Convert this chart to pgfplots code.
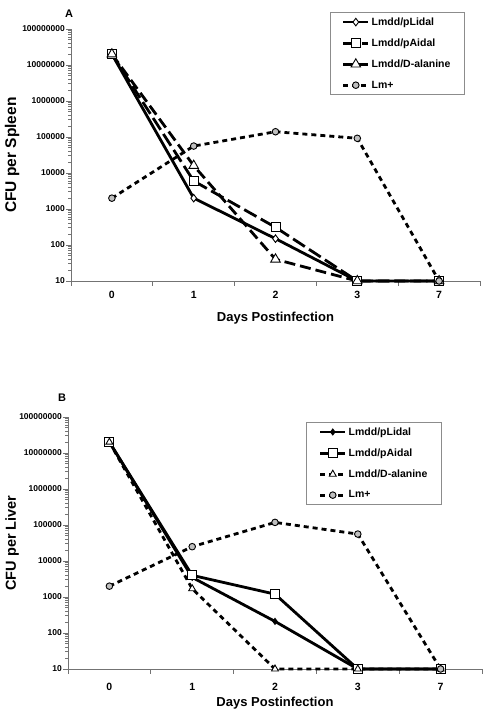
\documentclass[border=0pt]{standalone}
\usepackage{fontspec}
\setmainfont{Liberation Sans}
\usepackage{pgfplots}
\pgfplotsset{compat=1.18}
\begin{document}
\begin{tikzpicture}
\path[use as bounding box] (0pt,0pt) rectangle (487pt,715pt);
% ---------------- Panel A ----------------
\begin{axis}[scale only axis, width=409pt, height=252pt, at={(71pt,434pt)}, anchor=south west,
  ymode=log, ymin=10, ymax=100000000, xmin=-0.5, xmax=4.5,
  axis x line*=bottom, axis y line*=left,
  axis line style={draw=black!55, line width=0.8pt},
  ytick={10,100,1000,10000,100000,1000000,10000000,100000000},
  yticklabels={10,100,1000,10000,100000,1000000,10000000,100000000},
  tick align=outside, major tick length=5pt,
  tick style={draw=black!55, line width=0.8pt},
  xtick={-0.5,0.5,1.5,2.5,3.5,4.5}, xticklabels={},
  extra x ticks={0,1,2,3,4}, extra x tick labels={0,1,2,3,7},
  extra x tick style={major tick length=0pt},
  yticklabel style={font=\bfseries\fontsize{8.5}{9}\selectfont, inner sep=1pt},
  xticklabel style={font=\bfseries\fontsize{10.5}{12}\selectfont, anchor=center, yshift=-14pt},
  xlabel={Days Postinfection},
  xlabel style={font=\bfseries\fontsize{13}{14}\selectfont, anchor=center, at={(axis description cs:0.5,-0.147)}},
  ylabel={CFU per Spleen},
  ylabel style={font=\bfseries\fontsize{15.5}{16}\selectfont, at={(axis description cs:-0.144,0.5)}, anchor=center},
  clip=false,
  legend cell align=left,
  legend style={draw=black!45, line width=0.8pt, fill=white, anchor=north east, at={(0.963,1.067)},
    font=\bfseries\fontsize{10.5}{12}\selectfont,
    inner xsep=12pt, inner ysep=3pt, row sep=8pt, column sep=0pt},
  legend image code/.code={\draw[mark repeat=2,mark phase=2,#1] plot coordinates {(0pt,0pt) (12.5pt,0pt) (25pt,0pt)};},
  ]
\addplot[black, line width=2.8pt, mark=diamond*, mark size=3.8pt, mark options={solid, fill=white, line width=0.9pt}]
 coordinates {(0,20000000) (1,2000) (2,150) (3,10) (4,10)};
\addlegendentry{Lmdd/pLidal}
\addplot[black, line width=2.8pt, dash pattern=on 14pt off 5pt, mark=square*, mark size=4.5pt, mark options={solid, fill=white, line width=0.9pt}]
 coordinates {(0,20000000) (1,6000) (2,310) (3,10) (4,10)};
\addlegendentry{Lmdd/pAidal}
\addplot[black, line width=2.8pt, dash pattern=on 11pt off 5pt, mark=triangle*, mark size=5.5pt, mark options={solid, fill=white, line width=0.9pt}]
 coordinates {(0,20000000) (1,16000) (2,40) (3,10) (4,10)};
\addlegendentry{Lmdd/D-alanine}
\addplot[black, line width=2.8pt, dash pattern=on 5pt off 4pt, mark=*, mark size=3.3pt, mark options={solid, fill=black!25, line width=0.9pt}]
 coordinates {(0,2000) (1,56000) (2,140000) (3,92000) (4,10)};
\addlegendentry{Lm+}
\end{axis}
% ---------------- Panel B ----------------
\begin{axis}[scale only axis, width=414pt, height=252pt, at={(68pt,46pt)}, anchor=south west,
  ymode=log, ymin=10, ymax=100000000, xmin=-0.5, xmax=4.5,
  axis x line*=bottom, axis y line*=left,
  axis line style={draw=black!55, line width=0.8pt},
  ytick={10,100,1000,10000,100000,1000000,10000000,100000000},
  yticklabels={10,100,1000,10000,100000,1000000,10000000,100000000},
  tick align=outside, major tick length=5pt,
  tick style={draw=black!55, line width=0.8pt},
  xtick={-0.5,0.5,1.5,2.5,3.5,4.5}, xticklabels={},
  extra x ticks={0,1,2,3,4}, extra x tick labels={0,1,2,3,7},
  extra x tick style={major tick length=0pt},
  yticklabel style={font=\bfseries\fontsize{8.5}{9}\selectfont, inner sep=1pt},
  xticklabel style={font=\bfseries\fontsize{10.5}{12}\selectfont, anchor=center, yshift=-18pt},
  xlabel={Days Postinfection},
  xlabel style={font=\bfseries\fontsize{13}{14}\selectfont, anchor=center, at={(axis description cs:0.5,-0.135)}},
  ylabel={CFU per Liver},
  ylabel style={font=\bfseries\fontsize{14.5}{15}\selectfont, at={(axis description cs:-0.135,0.5)}, anchor=center},
  clip=false,
  legend cell align=left,
  legend style={draw=black!45, line width=0.8pt, fill=white, anchor=north east, at={(0.903,0.980)},
    font=\bfseries\fontsize{10.5}{12}\selectfont,
    inner xsep=12pt, inner ysep=3pt, row sep=8pt, column sep=0pt},
  legend image code/.code={\draw[mark repeat=2,mark phase=2,#1] plot coordinates {(0pt,0pt) (12.5pt,0pt) (25pt,0pt)};},
  ]
\addplot[black, line width=2.8pt, mark=diamond*, mark size=3pt, mark options={solid, fill=black, line width=0.9pt}]
 coordinates {(0,20000000) (1,3500) (2,210) (3,10) (4,10)};
\addlegendentry{Lmdd/pLidal}
\addplot[black, line width=2.8pt, mark=square*, mark size=4.5pt, mark options={solid, fill=white, line width=0.9pt}]
 coordinates {(0,20000000) (1,4000) (2,1200) (3,10) (4,10)};
\addlegendentry{Lmdd/pAidal}
\addplot[black, line width=2.8pt, dash pattern=on 5pt off 4pt, mark=triangle*, mark size=4pt, mark options={solid, fill=white, line width=0.9pt}]
 coordinates {(0,20000000) (1,1700) (2,10) (3,10) (4,10)};
\addlegendentry{Lmdd/D-alanine}
\addplot[black, line width=2.8pt, dash pattern=on 5pt off 4pt, mark=*, mark size=3.3pt, mark options={solid, fill=black!25, line width=0.9pt}]
 coordinates {(0,2000) (1,25000) (2,118000) (3,56000) (4,10)};
\addlegendentry{Lm+}
\end{axis}
\node[font=\bfseries\fontsize{11}{12}\selectfont] at (69pt,701pt) {A};
\node[font=\bfseries\fontsize{11}{12}\selectfont] at (62pt,317pt) {B};
\end{tikzpicture}
\end{document}
